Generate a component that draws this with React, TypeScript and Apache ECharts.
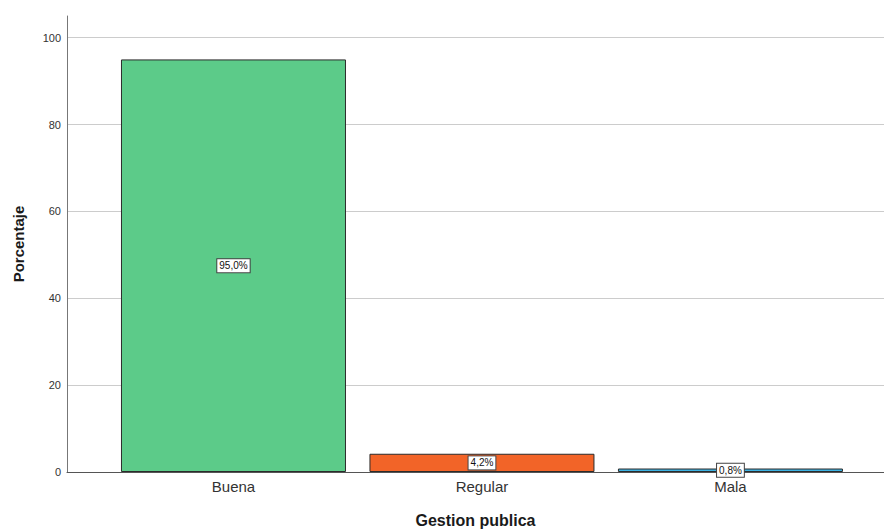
import React, { useEffect, useRef } from "react";
import * as echarts from "echarts";

const categories = ["Buena", "Regular", "Mala"];
const percentages = [95.0, 4.2, 0.8];
const barColors = ["#5ccb89", "#f26428", "#3cb2e2"];
const yTicks = [0, 20, 40, 60, 80, 100];
const catPositions = [1, 2, 3];

export default function App() {
  const ref = useRef<HTMLDivElement>(null);
  useEffect(() => {
    if (!ref.current) return;
    document.body.style.margin = "0";
    document.documentElement.style.overflow = "hidden";
    const chart = echarts.init(ref.current, null, { renderer: "svg" });
    const font = "'Liberation Sans', Arial, sans-serif";
    chart.setOption({
      animation: false,
      backgroundColor: "#ffffff",
      grid: { left: 67, right: 0, top: 16, height: 456, containLabel: false, outerBoundsMode: "none" },
      xAxis: {
        type: "value",
        min: 0.33,
        max: 3.618,
        name: "Gestion publica",
        nameLocation: "middle",
        nameGap: 40,
        nameTextStyle: { fontFamily: font, fontSize: 16, fontWeight: "bold", color: "#1a1a1a" },
        axisLine: { show: true, onZero: false, lineStyle: { color: "#555", width: 1 } },
        axisTick: { show: false },
        splitLine: { show: false },
        axisLabel: {
          customValues: catPositions,
          fontFamily: font,
          fontSize: 15,
          color: "#333333",
          margin: 7,
          formatter: (v: number) => categories[Math.round(v) - 1] ?? "",
        },
      },
      yAxis: {
        type: "value",
        min: 0,
        max: 105,
        name: "Porcentaje",
        nameLocation: "middle",
        nameGap: 41,
        nameRotate: 90,
        nameTextStyle: { fontFamily: font, fontSize: 15, fontWeight: "bold", color: "#1a1a1a" },
        axisLine: { show: true, lineStyle: { color: "#777", width: 1 } },
        axisTick: { show: false, customValues: yTicks },
        axisLabel: {
          customValues: yTicks,
          fontFamily: font,
          fontSize: 11,
          color: "#333333",
          margin: 6,
        },
        splitLine: { show: true, lineStyle: { color: "#cccccc", width: 1 } },
      },
      series: [
        {
          type: "bar",
          barWidth: 225,
          data: percentages.map((v, i) => ({
            value: [catPositions[i], v],
            itemStyle: { color: barColors[i], borderColor: "#2b2b2b", borderWidth: 1 },
          })),
          label: {
            show: true,
            position: "inside",
            fontFamily: font,
            fontSize: 10,
            color: "#111",
            backgroundColor: "#ffffff",
            borderColor: "#444",
            borderWidth: 1,
            padding: [2, 2, 1, 2],
            formatter: (p: any) => p.value[1].toFixed(1).replace(".", ",") + "%",
          },
        },
      ],
    });
    return () => chart.dispose();
  }, []);
  return <div ref={ref} style={{ width: 884, height: 531, display: "block" }} />;
}
